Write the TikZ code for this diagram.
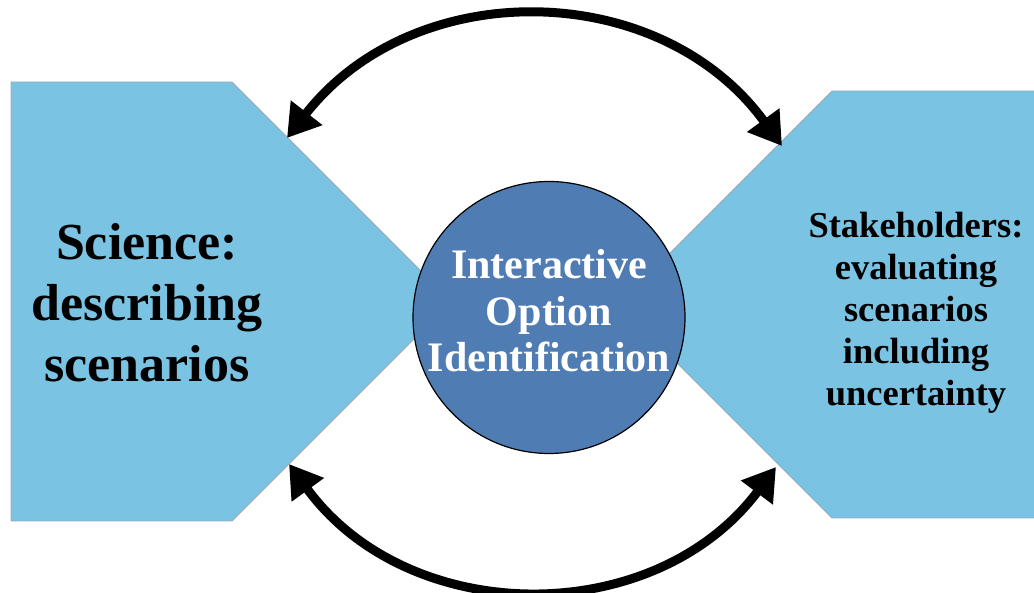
\documentclass[tikz,border=0pt]{standalone}
\usepackage{fontspec}
\setmainfont{LiberationSerif}[Extension=.ttf,UprightFont=*-Regular,BoldFont=*-Bold]
\usetikzlibrary{arrows.meta}

\definecolor{sideblue}{RGB}{122,195,227}
\definecolor{sideedge}{RGB}{150,172,188}
\definecolor{hubblue}{RGB}{79,124,179}

\begin{document}
\begin{tikzpicture}[x=1pt,y=1pt,
  side/.style={fill=sideblue,draw=sideedge,line width=0.8pt},
  sidetext/.style={align=center,inner sep=0pt},
  cyclearrow/.style={line width=9pt,{Triangle[length=32pt,width=38pt]}-{Triangle[length=32pt,width=38pt]}}]
\useasboundingbox (0,0) rectangle (1034,593);
\clip (0,0) rectangle (1034,593);
% the two hexagon-like panels
\draw[side] (11,511) -- (232,511) -- (451.5,291.5) -- (232,72) -- (11,72) -- cycle;
\draw[side] (1050,502) -- (832,502) -- (618.5,288.5) -- (832,75) -- (1050,75) -- cycle;
\node[sidetext,font=\fontsize{52}{61}\selectfont\bfseries] (science) at (147,290) {Science:\\describing\\scenarios};
\node[sidetext,font=\fontsize{36.5}{42}\selectfont\bfseries] (stake) at (916,280.5) {Stakeholders:\\evaluating\\scenarios\\including\\uncertainty};
% hub in the middle, text sits a little above its centre
\node[circle,draw=black,line width=1.2pt,fill=hubblue,minimum size=272pt,inner sep=-3pt,
  text=white,align=center,text depth=14pt,font=\fontsize{42}{46.5}\selectfont\bfseries] (hub) at (549,275.5) {Interactive\\Option\\Identification};
\coordinate (sciTop) at (287,455);
\coordinate (stkTop) at (782,447);
\coordinate (sciBot) at (289,129);
\coordinate (stkBot) at (776,126);
\draw[cyclearrow] (sciTop) to[bend left=53,looseness=1.07] (stkTop);
\draw[cyclearrow] (sciBot) to[bend right=53.5,looseness=1.066] (stkBot);
\end{tikzpicture}
\end{document}
